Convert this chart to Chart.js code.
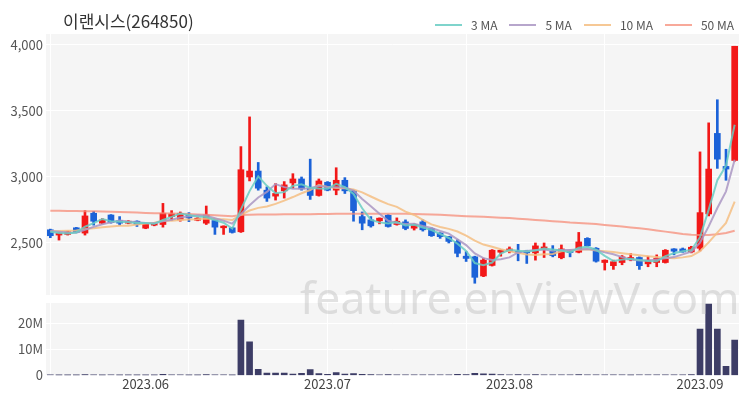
<!DOCTYPE html>
<html>
<head>
<meta charset="utf-8">
<script src="https://cdn.jsdelivr.net/npm/chart.js@4.4.0/dist/chart.umd.min.js"></script>
<style>
  html, body { margin: 0; padding: 0; background: #fff; }
  #wrap { position: relative; width: 750px; height: 400px; overflow: hidden;
          font-family: "Noto Sans CJK KR", "Noto Sans", sans-serif; }
  #title { position: absolute; left: 63px; top: 8px; font-size: 17px; color: #333; white-space: nowrap; }
  #legend { position: absolute; right: 16px; top: 16px; display: flex; align-items: center;
            font-size: 12px; color: #555; white-space: nowrap; }
  #legend .item { display: flex; align-items: center; margin-left: 12px; }
  #legend .line { display: inline-block; width: 27px; height: 2px; margin-right: 9px; }
  #priceBox { position: absolute; left: 0; top: 0; width: 750px; height: 300px; }
  #volBox { position: absolute; left: 0; top: 300px; width: 750px; height: 100px; }
  #mark { position: absolute; left: 300px; top: 266px; font-family: "Noto Sans", sans-serif;
          font-size: 44.5px; color: rgba(190, 190, 190, 0.45); pointer-events: none; white-space: nowrap; }
</style>
</head>
<body>
<div id="wrap">
  <div id="priceBox"><canvas id="priceChart"></canvas></div>
  <div id="volBox"><canvas id="volChart"></canvas></div>
  <div id="title">이랜시스(264850)</div>
  <div id="legend"></div>
  <div id="mark">feature.enViewV.com</div>
</div>
<script>
// trading days shown on the chart
const dates = [
  '2023-05-16','2023-05-17','2023-05-18','2023-05-19','2023-05-22','2023-05-23','2023-05-24','2023-05-25','2023-05-26','2023-05-30','2023-05-31',
  '2023-06-01','2023-06-02','2023-06-05','2023-06-07','2023-06-08','2023-06-09','2023-06-12','2023-06-13','2023-06-14','2023-06-15','2023-06-16',
  '2023-06-19','2023-06-20','2023-06-21','2023-06-22','2023-06-23','2023-06-26','2023-06-27','2023-06-28','2023-06-29','2023-06-30',
  '2023-07-03','2023-07-04','2023-07-05','2023-07-06','2023-07-07','2023-07-10','2023-07-11','2023-07-12','2023-07-13','2023-07-14',
  '2023-07-17','2023-07-18','2023-07-19','2023-07-20','2023-07-21','2023-07-24','2023-07-25','2023-07-26','2023-07-27','2023-07-28','2023-07-31',
  '2023-08-01','2023-08-02','2023-08-03','2023-08-04','2023-08-07','2023-08-08','2023-08-09','2023-08-10','2023-08-11','2023-08-14','2023-08-16',
  '2023-08-17','2023-08-18','2023-08-21','2023-08-22','2023-08-23','2023-08-24','2023-08-25','2023-08-28','2023-08-29','2023-08-30','2023-08-31',
  '2023-09-01','2023-09-04','2023-09-05','2023-09-06','2023-09-07'
];

const openPrices = [
  2600,2560,2565,2615,2575,2725,2650,2712,2670,2650,2665,
  2612,2635,2640,2700,2675,2710,2672,2650,2670,2615,2615,
  2585,3000,3045,2900,2855,2895,2955,2985,2915,2860,
  2960,2900,2975,2895,2700,2675,2668,2710,2640,2660,
  2612,2660,2610,2575,2548,2510,2400,2395,2250,2330,2430,
  2437,2437,2440,2425,2450,2437,2388,2445,2430,2535,2460,
  2352,2328,2352,2372,2390,2342,2352,2352,2455,2455,2432,
  2460,2720,3330,3080,3125
];
const highPrices = [
  2605,2578,2590,2618,2745,2740,2685,2715,2700,2670,2668,
  2650,2652,2800,2745,2735,2730,2692,2780,2680,2630,2618,
  3230,3455,3110,2925,2950,2965,3025,3000,3135,2985,
  2965,3070,2995,2900,2735,2700,2690,2715,2690,2675,
  2645,2675,2615,2578,2550,2525,2435,2400,2385,2450,2448,
  2470,2490,2445,2500,2500,2480,2485,2447,2580,2540,2465,
  2372,2370,2405,2420,2395,2400,2410,2450,2457,2462,2475,
  3190,3410,3585,3210,3990
];
const lowPrices = [
  2540,2522,2560,2578,2560,2635,2645,2650,2635,2645,2625,
  2608,2630,2620,2670,2665,2662,2668,2640,2565,2565,2575,
  2580,2970,2900,2815,2825,2840,2915,2900,2830,2855,
  2895,2865,2875,2665,2600,2620,2645,2620,2635,2600,
  2598,2590,2550,2535,2500,2395,2360,2195,2245,2325,2400,
  2425,2365,2345,2370,2390,2395,2380,2395,2425,2475,2355,
  2295,2300,2335,2365,2300,2320,2320,2348,2410,2430,2425,
  2440,2705,3065,2975,3120
];
const closePrices = [
  2555,2575,2585,2580,2705,2665,2675,2655,2650,2665,2640,
  2648,2648,2725,2720,2725,2690,2688,2712,2620,2628,2580,
  3055,3045,2915,2840,2875,2940,2985,2910,2860,2970,
  2900,2975,2895,2745,2650,2630,2688,2625,2665,2610,
  2640,2600,2555,2548,2512,2422,2383,2240,2370,2445,2445,
  2455,2425,2425,2478,2470,2405,2455,2428,2508,2478,2362,
  2370,2358,2395,2390,2328,2370,2385,2445,2438,2432,2468,
  2730,3060,3135,3060,3990
];

// moving average lines
const ma3 = [
  2585,2575,2572,2580,2623,2650,2682,2665,2660,2657,2652,
  2651,2645,2674,2698,2723,2712,2701,2697,2673,2653,2609,
  2754,2893,3005,2933,2877,2885,2933,2945,2918,2913,
  2910,2948,2923,2872,2763,2675,2656,2648,2659,2633,
  2638,2617,2598,2568,2538,2494,2439,2348,2331,2352,2420,
  2448,2442,2435,2443,2458,2451,2443,2429,2464,2471,2449,
  2403,2363,2374,2381,2371,2363,2361,2400,2423,2438,2446,
  2543,2753,2975,3085,3395
];
const ma5 = [
  2590,2585,2580,2578,2600,2622,2642,2656,2670,2662,2657,
  2652,2650,2665,2676,2693,2702,2710,2707,2687,2668,2646,
  2719,2786,2845,2887,2946,2923,2911,2910,2914,2933,
  2925,2923,2920,2897,2833,2779,2722,2668,2652,2644,
  2646,2628,2614,2591,2571,2527,2484,2421,2385,2372,2377,
  2391,2428,2439,2446,2451,2441,2447,2447,2453,2455,2446,
  2429,2415,2393,2375,2368,2368,2374,2384,2393,2414,2434,
  2503,2626,2765,2891,3130
];
const ma10 = [
  2588,2590,2592,2594,2605,2612,2620,2625,2630,2631,2640,
  2647,2653,2668,2669,2675,2677,2680,2686,2682,2680,2674,
  2714,2746,2766,2777,2796,2821,2848,2877,2901,2940,
  2924,2917,2915,2906,2883,2852,2822,2794,2774,2738,
  2712,2675,2641,2621,2607,2587,2556,2518,2488,2472,2452,
  2438,2425,2412,2409,2414,2416,2437,2443,2449,2453,2443,
  2438,2431,2423,2415,2407,2399,2394,2388,2384,2391,2401,
  2438,2505,2579,2652,2814
];
const ma50 = [
  2745,2744,2743,2742,2741,2740,2738,2736,2734,2732,2730,
  2728,2726,2725,2723,2721,2719,2716,2713,2710,2706,2702,
  2712,2714,2715,2715,2716,2717,2717,2718,2718,2719,
  2720,2721,2722,2722,2722,2722,2722,2722,2722,2721,
  2720,2718,2716,2713,2710,2707,2703,2700,2698,2695,2692,
  2689,2684,2680,2675,2670,2665,2660,2655,2652,2648,2643,
  2637,2631,2625,2618,2611,2604,2595,2586,2577,2568,2563,
  2561,2561,2566,2576,2593
];

const volumes = [
  150000,120000,100000,100000,350000,200000,100000,150000,100000,80000,100000,
  120000,100000,400000,200000,150000,120000,80000,300000,250000,150000,120000,
  21200000,12800000,2300000,900000,850000,900000,500000,800000,2200000,700000,
  400000,1100000,500000,700000,400000,300000,250000,300000,200000,250000,
  150000,200000,250000,200000,250000,400000,350000,800000,600000,500000,300000,
  250000,300000,250000,300000,200000,150000,200000,150000,350000,250000,250000,
  200000,150000,150000,120000,200000,150000,150000,250000,200000,150000,300000,
  17700000,27300000,17700000,3500000,13500000
];

const priceTicks = [2500, 3000, 3500, 4000];
const volumeTicks = [0, 10000000, 20000000];

const maSeries = [
  { label: '3 MA', data: ma3, color: 'rgba(105, 205, 195, 0.85)' },
  { label: '5 MA', data: ma5, color: 'rgba(170, 150, 195, 0.85)' },
  { label: '10 MA', data: ma10, color: 'rgba(245, 190, 130, 0.85)' },
  { label: '50 MA', data: ma50, color: 'rgba(245, 140, 120, 0.75)' }
];

const upColor = '#f21818';
const downColor = '#1b62d8';
const candleColors = closePrices.map((c, i) => c >= openPrices[i] ? upColor : downColor);

Chart.defaults.font.family = '"Noto Sans CJK KR", "Noto Sans", sans-serif';
Chart.defaults.font.size = 13;
Chart.defaults.color = '#555';

// fill plot area with light gray
const plotBackground = {
  id: 'plotBackground',
  beforeDraw(chart) {
    const {ctx, chartArea} = chart;
    ctx.save();
    ctx.fillStyle = '#f5f5f5';
    ctx.fillRect(chartArea.left, chartArea.top, chartArea.width, chartArea.height);
    ctx.restore();
  }
};

const gridEvery16 = (ctx) => ctx.index % 16 === 0 ? '#ffffff' : 'rgba(0,0,0,0)';

// fixed y axis width, no extra label padding above/below the plot
const fixYAxis = (scale) => {
  scale.width = 46;
  scale.paddingTop = 0;
  scale.paddingBottom = 0;
};

const xAxisBase = {
  offset: true,
  grid: { offset: false, drawTicks: false, color: gridEvery16 },
  border: { display: false }
};

const priceChart = new Chart(document.getElementById('priceChart'), {
  type: 'bar',
  data: {
    labels: dates,
    datasets: [
      ...maSeries.map((s) => ({
        type: 'line',
        label: s.label,
        data: s.data,
        borderColor: s.color,
        borderWidth: 2,
        pointRadius: 0,
        tension: 0,
        order: 0
      })),
      {
        label: 'wick',
        data: dates.map((d, i) => [lowPrices[i], highPrices[i]]),
        backgroundColor: candleColors,
        barThickness: 2,
        grouped: false,
        order: 2
      },
      {
        label: 'body',
        data: dates.map((d, i) => [openPrices[i], closePrices[i]]),
        backgroundColor: candleColors,
        barThickness: 6,
        grouped: false,
        order: 1
      }
    ]
  },
  options: {
    responsive: true,
    maintainAspectRatio: false,
    animation: false,
    layout: { padding: { top: 34, right: 11, bottom: 5, left: 0 } },
    plugins: { legend: { display: false }, tooltip: { enabled: false } },
    scales: {
      x: { ...xAxisBase, ticks: { display: false } },
      y: {
        min: 2106,
        max: 4083,
        afterBuildTicks: (scale) => { scale.ticks = priceTicks.map((v) => ({ value: v })); },
        afterFit: fixYAxis,
        grid: { color: '#ffffff', drawTicks: false },
        border: { display: false },
        ticks: { padding: 3, color: '#555' }
      }
    }
  },
  plugins: [plotBackground]
});

const volChart = new Chart(document.getElementById('volChart'), {
  type: 'bar',
  data: {
    labels: dates,
    datasets: [{
      label: 'volume',
      data: volumes,
      backgroundColor: '#3d3d66',
      barThickness: 6
    }]
  },
  options: {
    responsive: true,
    maintainAspectRatio: false,
    animation: false,
    layout: { padding: { top: 3, right: 11, bottom: 7, left: 0 } },
    plugins: { legend: { display: false }, tooltip: { enabled: false } },
    scales: {
      x: {
        ...xAxisBase,
        ticks: {
          autoSkip: false,
          maxRotation: 0,
          padding: 1,
          color: '#444',
          callback: function(value, index) {
            const d = dates[index];
            if (index > 0 && d.slice(0, 7) !== dates[index - 1].slice(0, 7)) {
              return d.slice(0, 7).replace('-', '.');
            }
            return '';
          }
        }
      },
      y: {
        min: 0,
        max: 27700000,
        afterBuildTicks: (scale) => { scale.ticks = volumeTicks.map((v) => ({ value: v })); },
        afterFit: fixYAxis,
        grid: { color: '#ffffff', drawTicks: false },
        border: { display: false },
        ticks: {
          padding: 3,
          color: '#555',
          callback: (v) => v === 0 ? '0' : (v / 1000000) + 'M'
        }
      }
    }
  },
  plugins: [plotBackground]
});

// legend for the moving averages
const legendBox = document.getElementById('legend');
maSeries.forEach((s) => {
  const item = document.createElement('span');
  item.className = 'item';
  const line = document.createElement('span');
  line.className = 'line';
  line.style.background = s.color;
  const text = document.createElement('span');
  text.textContent = s.label;
  item.appendChild(line);
  item.appendChild(text);
  legendBox.appendChild(item);
});
</script>
</body>
</html>
